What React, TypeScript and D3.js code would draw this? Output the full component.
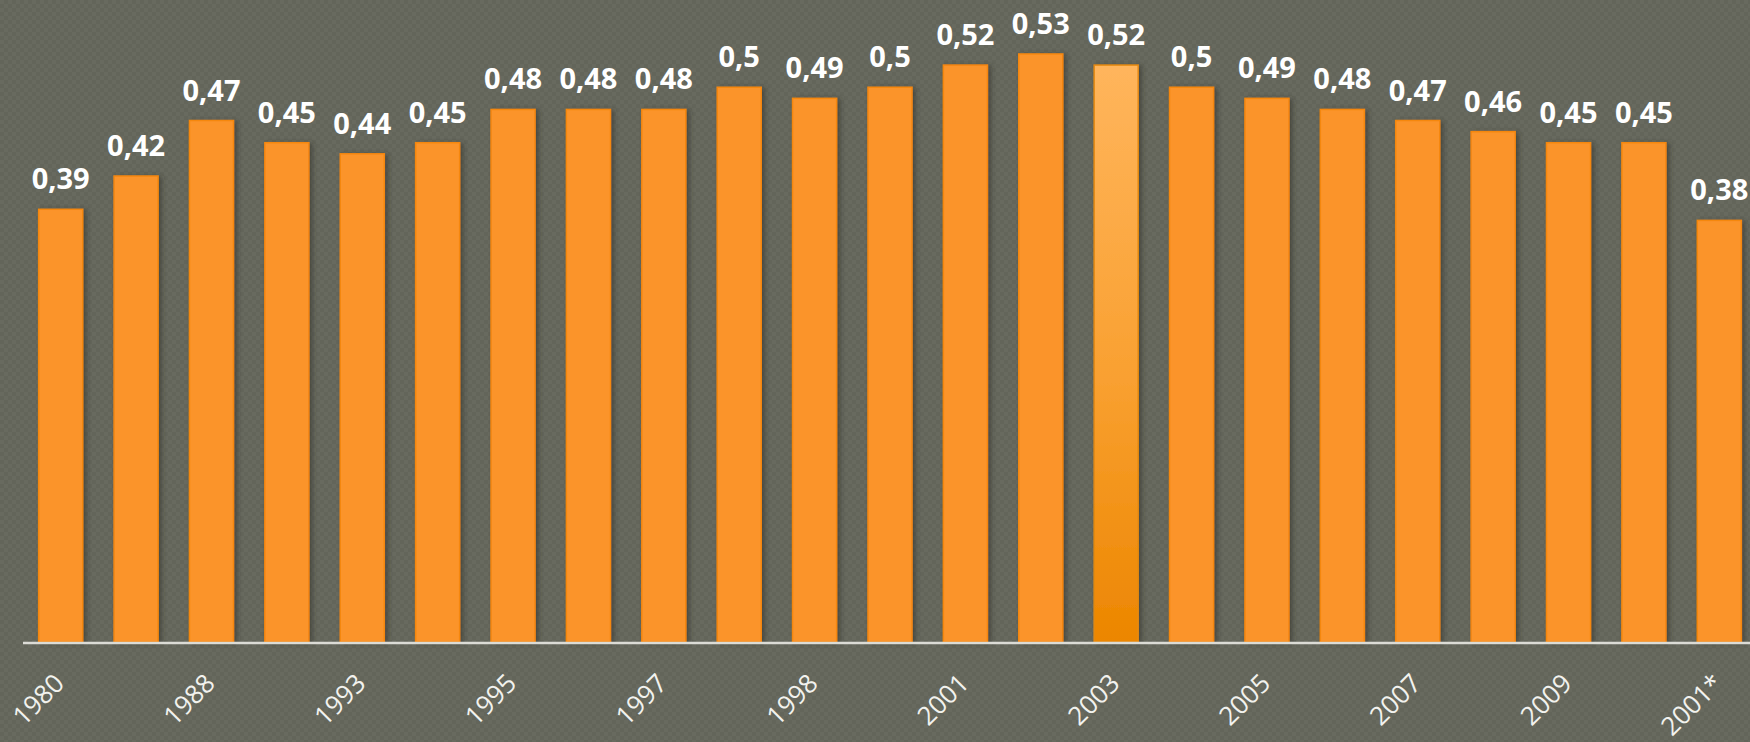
import { useEffect, useRef } from "react";
import * as d3 from "d3";

const values = [0.39, 0.42, 0.47, 0.45, 0.44, 0.45, 0.48, 0.48, 0.48, 0.5, 0.49, 0.5,
    0.52, 0.53, 0.52, 0.5, 0.49, 0.48, 0.47, 0.46, 0.45, 0.45, 0.38];
const tickLabels = ["1980", "", "1988", "", "1993", "", "1995", "", "1997", "", "1998", "",
    "2001", "", "2003", "", "2005", "", "2007", "", "2009", "", "2001*"];
const highlighted = 14;

export default function App() {
    const ref = useRef<SVGSVGElement>(null);
    const width = 1750;
    const height = 742;

    useEffect(() => {
        const svg = d3.select(ref.current);
        svg.selectAll("*").remove();

        const x = d3.scaleBand<number>()
            .domain(d3.range(values.length))
            .range([23, 1757])
            .paddingInner(0.416)
            .paddingOuter(0.208);
        const y = d3.scaleLinear().domain([0, 0.6]).range([642, 642 - 0.6 * 1109.5]);

        const defs = svg.append("defs");
        const pat = defs.append("pattern")
            .attr("id", "bgpat").attr("width", 8).attr("height", 8)
            .attr("patternUnits", "userSpaceOnUse");
        pat.append("rect").attr("width", 8).attr("height", 8).attr("fill", "#63655a");
        pat.append("rect").attr("width", 4).attr("height", 4).attr("fill", "#686a5f");
        pat.append("rect").attr("x", 4).attr("y", 4).attr("width", 4).attr("height", 4).attr("fill", "#686a5f");

        const grad = defs.append("linearGradient")
            .attr("id", "hl").attr("x1", 0).attr("y1", 0).attr("x2", 0).attr("y2", 1);
        grad.append("stop").attr("offset", "0%").attr("stop-color", "#ffb55c");
        grad.append("stop").attr("offset", "55%").attr("stop-color", "#f9a030");
        grad.append("stop").attr("offset", "100%").attr("stop-color", "#ec8600");

        const shadow = defs.append("filter").attr("id", "shadow")
            .attr("x", "-20%").attr("y", "-10%").attr("width", "150%").attr("height", "120%");
        shadow.append("feDropShadow")
            .attr("dx", 3).attr("dy", 1).attr("stdDeviation", 2.5)
            .attr("flood-color", "#2e2f28").attr("flood-opacity", 0.55);

        svg.append("rect").attr("width", width).attr("height", height).attr("fill", "url(#bgpat)");

        svg.append("g")
            .selectAll("rect")
            .data(values)
            .join("rect")
            .attr("x", (_, i) => x(i)!)
            .attr("y", d => y(d))
            .attr("width", x.bandwidth())
            .attr("height", d => y(0) - y(d))
            .attr("fill", (_, i) => i === highlighted ? "url(#hl)" : "#fb942b")
            .attr("stroke", (_, i) => i === highlighted ? "#e58a12" : "#f5870f")
            .attr("stroke-width", 1.5)
            .attr("filter", "url(#shadow)");

        svg.append("g")
            .selectAll("text")
            .data(values)
            .join("text")
            .attr("x", (_, i) => x(i)! + x.bandwidth() / 2)
            .attr("y", d => y(d) - 20)
            .attr("text-anchor", "middle")
            .attr("font-family", "'Open Sans', sans-serif")
            .attr("font-weight", "bold")
            .attr("font-size", 29)
            .attr("fill", "#ffffff")
            .text(d => String(d).replace(".", ","));

        svg.append("line")
            .attr("x1", 23).attr("x2", width)
            .attr("y1", y(0) + 1).attr("y2", y(0) + 1)
            .attr("stroke", "#dcdcd6").attr("stroke-width", 2.5);

        // rotated year labels, only every other bar carries one
        svg.append("g")
            .selectAll("text")
            .data(tickLabels)
            .join("text")
            .attr("transform", (_, i) => `translate(${x(i)! + x.bandwidth() / 2 + 5}, 685) rotate(-45)`)
            .attr("text-anchor", "end")
            .attr("font-family", "'Open Sans', sans-serif")
            .attr("font-size", 26)
            .attr("fill", "#f2f2ee")
            .text(d => d);
    }, []);

    return <svg ref={ref} width={width} height={height}
        style={{ position: "absolute", left: 0, top: 0, display: "block" }}></svg>;
}
